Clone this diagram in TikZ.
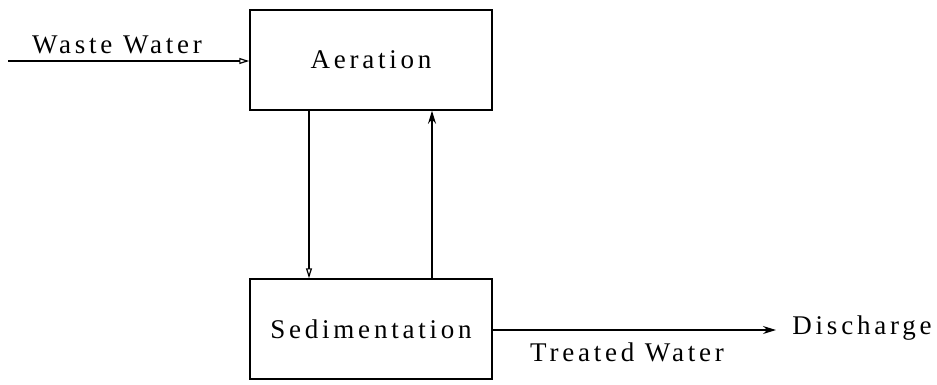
\documentclass[tikz,border=0pt]{standalone}
\usepackage{fontspec}
\setmainfont[LetterSpace=14]{Liberation Serif}
\usetikzlibrary{arrows.meta}
\begin{document}
\begin{tikzpicture}[x=1pt,y=1pt,
  procbox/.style={draw, line width=1.5pt, minimum width=242pt, minimum height=100pt, inner sep=0pt, font=\fontsize{27}{30}\selectfont},
  lbl/.style={inner sep=0pt, font=\fontsize{27}{30}\selectfont},
  flow/.style={line width=1.4pt},
  opentip/.style={-{Triangle[open, length=10pt, width=6pt, line width=1.2pt]}},
  filltip/.style={-{Stealth[length=13pt, width=8pt]}}]
\useasboundingbox (0,0) rectangle (937,-384);
\node[procbox] (aer) at (371,-60) {Aeration};
\node[procbox] (sed) at (371,-329) {Sedimentation};
\coordinate (in) at (8,-61);
\coordinate (out) at (776,-330);
\draw[flow, opentip] (in) -- (aer.west |- in);
\draw[flow, opentip] (aer.south -| 309,0) -- (sed.north -| 309,0);
\draw[flow, filltip] (sed.north -| 432,0) -- (aer.south -| 432,0);
\draw[flow, filltip] (sed.east |- out) -- (out);
\node[lbl] (ww) at (117,-45) {Waste Water};
\node[lbl] (dis) at (862,-328) {Discharge};
\node[lbl] (tw) at (627,-352) {Treated Water};
\end{tikzpicture}
\end{document}
